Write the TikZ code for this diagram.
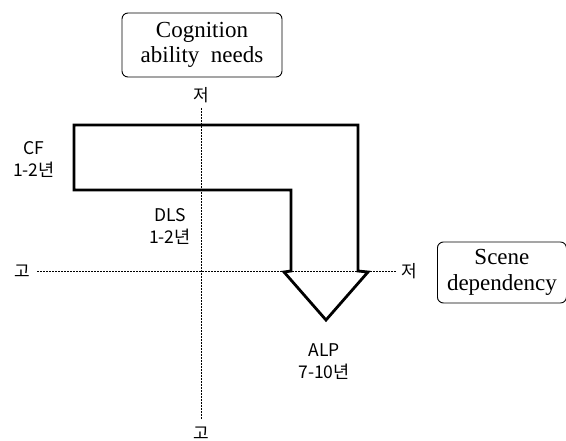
\documentclass[tikz,border=0pt]{standalone}
\usepackage{fontspec}
\setmainfont{Liberation Serif}
\newfontfamily\kr{Noto Sans CJK KR}
\begin{document}
\begin{tikzpicture}[x=1pt,y=-1pt,
  titlebox/.style={draw,rounded corners=6pt,line width=0.9pt,align=center,font=\fontsize{23}{25.5}\selectfont,inner sep=0pt},
  lab/.style={align=center,font=\kr\fontsize{17.5}{22}\selectfont,inner sep=0pt},
  axislab/.style={font=\kr\fontsize{17}{20}\selectfont,inner sep=1pt},
  axis/.style={line width=0.6pt,dash pattern=on 2pt off 1pt},
  bigarrow/.style={line width=2.8pt,line join=miter}]
\useasboundingbox (0,0) rectangle (566,441);
% title boxes
\node[titlebox,minimum width=160pt,minimum height=64pt] (cog) at (202,45) {Cognition\\ability\ \ needs};
\node[titlebox,minimum width=129pt,minimum height=61pt,anchor=west] (scene) at (437,272.5) {Scene\\dependency};
% axis labels
\node[axislab] (ytop) at (201,95) {저};
\node[axislab] (ybot) at (201,433) {고};
\node[axislab] (xleft) at (22,271) {고};
\node[axislab] (xright) at (409,271) {저};
% big arrow
\draw[bigarrow] (74,125) -- (358,125) -- (358,271) -- (368,272) -- (326,320)
  -- (284,272) -- (291,271) -- (291,190) -- (74,190) -- cycle;
% axes
\draw[axis] ([yshift=-4pt]ytop.south) -- ([yshift=6pt]ybot.north);
\draw[axis] ([xshift=6pt]xleft.east) -- ([xshift=-3pt]xright.west);
% labels
\node[lab] (cf) at (34,159) {CF\\1-2년};
\node[lab] (dls) at (170,226) {DLS\\1-2년};
\node[lab] (alp) at (324,362) {ALP\\7-10년};
\end{tikzpicture}
\end{document}
